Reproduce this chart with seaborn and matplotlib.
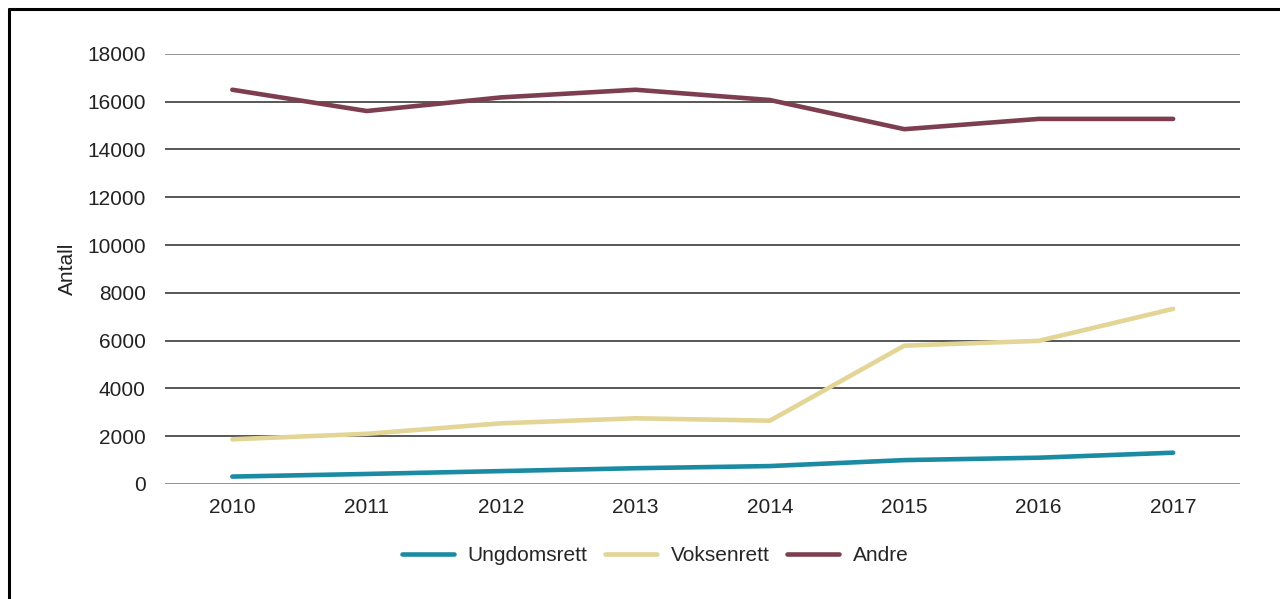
import matplotlib
matplotlib.use("Agg")
import matplotlib.pyplot as plt
from matplotlib.lines import Line2D
import seaborn as sns
import pandas as pd

years = [2010, 2011, 2012, 2013, 2014, 2015, 2016, 2017]
ungdomsrett = [310, 420, 540, 660, 750, 1000, 1100, 1310]
voksenrett = [1870, 2100, 2540, 2750, 2650, 5790, 5990, 7330]
andre = [16500, 15610, 16180, 16500, 16070, 14850, 15280, 15280]
series_names = ["Ungdomsrett", "Voksenrett", "Andre"]
colors = ["#1A8BA3", "#E2D596", "#7D3F50"]
y_ticks = [0, 2000, 4000, 6000, 8000, 10000, 12000, 14000, 16000, 18000]

df = pd.DataFrame({
    "År": years * 3,
    "Antall": ungdomsrett + voksenrett + andre,
    "Serie": [series_names[0]] * 8 + [series_names[1]] * 8 + [series_names[2]] * 8,
})

sns.set_theme(style="white")
plt.rcParams["font.family"] = ["Liberation Sans", "DejaVu Sans"]

FS = 15
fig = plt.figure(figsize=(12.8, 5.99), dpi=100)
ax = fig.add_axes([0.129, 0.192, 0.840, 0.718])

for yv in y_ticks:
    edge = yv in (0, 18000)
    ax.axhline(yv, color="#8a8a8a" if edge else "#2a2a2a",
               lw=1.3 if edge else 1.1, zorder=1)

sns.lineplot(data=df, x="År", y="Antall", hue="Serie", hue_order=series_names,
             palette=colors, linewidth=3.3, ax=ax, legend=False, zorder=3,
             solid_capstyle="round")

ax.set_xlim(2009.5, 2017.5)
ax.set_ylim(0, 18000)
ax.set_xticks(years)
ax.set_xticklabels([str(y) for y in years])
ax.set_yticks(y_ticks)
ax.set_yticklabels([str(v) for v in y_ticks])
ax.tick_params(axis="both", length=0, labelsize=FS, colors="#222222")
ax.tick_params(axis="y", pad=14)
ax.tick_params(axis="x", pad=10)
ax.set_xlabel("")
ax.set_ylabel("Antall", fontsize=FS, color="#222222", labelpad=7)
for s in ax.spines.values():
    s.set_visible(False)

handles = [Line2D([0], [0], color=c, lw=3.3, solid_capstyle="round") for c in colors]
fig.legend(handles, series_names, loc="center", bbox_to_anchor=(0.512, 0.072),
           ncol=3, frameon=False, fontsize=FS, handlelength=2.5,
           columnspacing=0.85, handletextpad=0.65)

fig.add_artist(Line2D([8.5 / 1280, 1.0], [1 - 8.5 / 599, 1 - 8.5 / 599],
                      transform=fig.transFigure, color="black", lw=2.2))
fig.add_artist(Line2D([8.5 / 1280, 8.5 / 1280], [0, 1 - 8.5 / 599],
                      transform=fig.transFigure, color="black", lw=2.2))

fig.savefig("out.png", dpi=100)
